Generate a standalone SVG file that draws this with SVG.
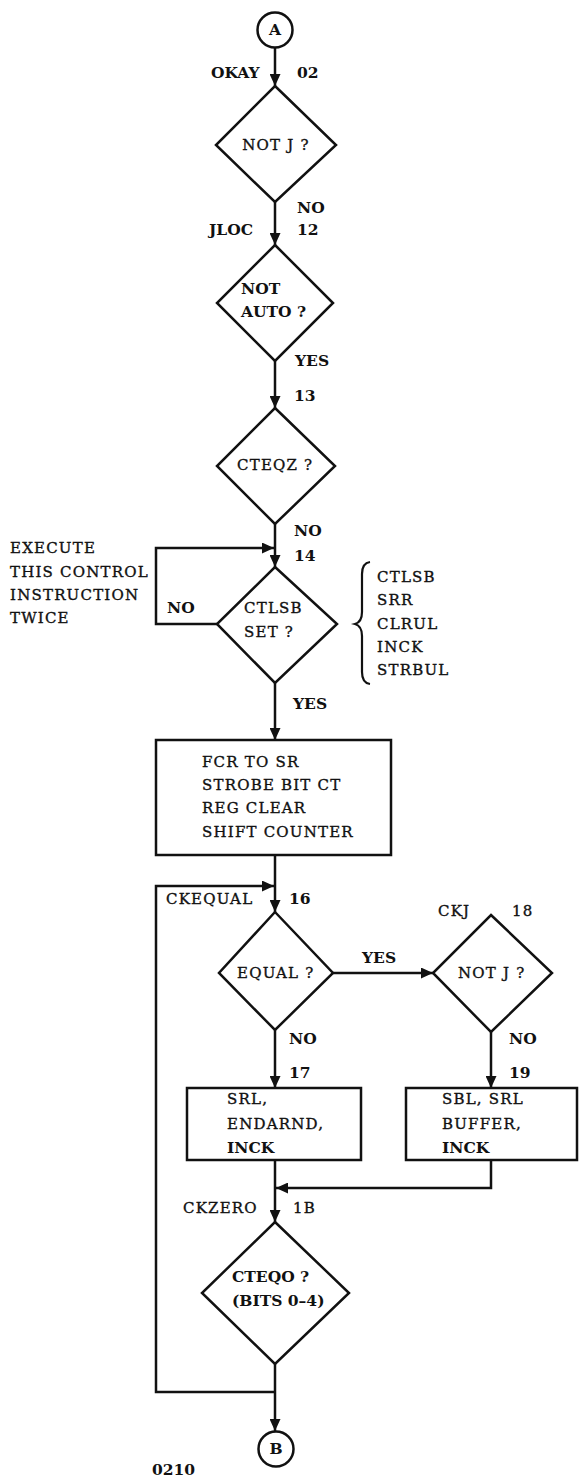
<svg xmlns="http://www.w3.org/2000/svg" width="579" height="1478" viewBox="0 0 579 1478">
<style>
.s{fill:none;stroke:#111;stroke-width:2.5;stroke-linejoin:miter}
.n{fill:#fff;stroke:#111;stroke-width:2.5}
.t{font-family:"DejaVu Serif","Liberation Serif",serif;font-size:15px;letter-spacing:1.2px;fill:#111;stroke:#111;stroke-width:0.35}
.b{font-family:"DejaVu Serif","Liberation Serif",serif;font-size:15.5px;font-weight:bold;fill:#111}
.c{text-anchor:middle}
</style>
<defs>
<marker id="ah" markerUnits="userSpaceOnUse" markerWidth="13" markerHeight="11" refX="12" refY="5.5" orient="auto">
<path d="M0,0 L12,5.5 L0,11 z" fill="#111"/>
</marker>
</defs>
<rect width="579" height="1478" fill="#fff"/>
<g id="connectors" class="s" marker-end="url(#ah)">
<path d="M275,48 V86"/>
<path d="M275,202 V245"/>
<path d="M275,361 V408"/>
<path d="M275,524 V567"/>
<path d="M217,624 H156 V548 H274"/>
<path d="M275,683 V740"/>
<path d="M275,855 V912"/>
<path d="M333,973 H433"/>
<path d="M275,1030 V1088"/>
<path d="M491,1032 V1088"/>
<path d="M275,1160 V1222"/>
<path d="M491,1160 V1188 H276"/>
<path d="M275,1364 V1431"/>
<path d="M275,1392 H156 V886 H274"/>
</g>
<g id="nodeA">
<circle class="n" cx="275" cy="30" r="17.5"/>
<text class="b c" x="275" y="35" font-size="14">A</text>
</g>
<g id="notj1">
<path class="n" d="M275,86 L336,145 L275,202 L216,145 z"/>
<text class="t c" x="276" y="150">NOT J ?</text>
</g>
<g id="notauto">
<path class="n" d="M275,245 L333,303 L275,361 L217,303 z"/>
<text class="b" x="241" y="294">NOT</text>
<text class="b" x="241" y="317">AUTO ?</text>
</g>
<g id="cteqz">
<path class="n" d="M275,408 L335,466 L275,524 L217,466 z"/>
<text class="t" x="237" y="470">CTEQZ ?</text>
</g>
<g id="ctlsb">
<path class="n" d="M275,567 L337,624 L275,683 L217,624 z"/>
<text class="t" x="244" y="613">CTLSB</text>
<text class="t" x="244" y="637">SET ?</text>
</g>
<g id="fcr">
<rect class="n" x="156" y="740" width="235" height="115"/>
<text class="t" x="202" y="767">FCR TO SR</text>
<text class="t" x="202" y="790">STROBE BIT CT</text>
<text class="t" x="202" y="813">REG CLEAR</text>
<text class="t" x="202" y="837">SHIFT COUNTER</text>
</g>
<g id="equal">
<path class="n" d="M275,912 L333,973 L275,1030 L219,973 z"/>
<text class="t" x="237" y="978">EQUAL ?</text>
</g>
<g id="notj2">
<path class="n" d="M491,915 L552,973 L491,1032 L433,973 z"/>
<text class="t" x="458" y="978">NOT J ?</text>
</g>
<g id="box17">
<rect class="n" x="187" y="1088" width="174" height="72"/>
<text class="t" x="227" y="1104">SRL,</text>
<text class="t" x="227" y="1129">ENDARND,</text>
<text class="b" x="227" y="1153">INCK</text>
</g>
<g id="box19">
<rect class="n" x="406" y="1088" width="171" height="72"/>
<text class="t" x="442" y="1104">SBL, SRL</text>
<text class="t" x="442" y="1129">BUFFER,</text>
<text class="b" x="442" y="1153">INCK</text>
</g>
<g id="cteqo">
<path class="n" d="M275,1222 L349,1293 L275,1364 L202,1293 z"/>
<text class="b" x="232" y="1282">CTEQO ?</text>
<text class="b" x="232" y="1306">(BITS 0–4)</text>
</g>
<g id="nodeB">
<circle class="n" cx="276" cy="1449" r="17.5"/>
<text class="b c" x="276" y="1454" font-size="14">B</text>
</g>
<g id="brace">
<path d="M370,562 Q362,563 362,574 V612 Q362,622 355,624 Q362,626 362,636 V672 Q362,683 370,684" fill="none" stroke="#111" stroke-width="2.2"/>
</g>
<g id="labels">
<text class="b" x="211" y="78">OKAY</text>
<text class="b" x="297" y="78">02</text>
<text class="b" x="297" y="213">NO</text>
<text class="b" x="209" y="235">JLOC</text>
<text class="b" x="297" y="235">12</text>
<text class="b" x="295" y="366">YES</text>
<text class="b" x="294" y="401">13</text>
<text class="b" x="294" y="536">NO</text>
<text class="b" x="294" y="561">14</text>
<text class="t" x="10" y="553">EXECUTE</text>
<text class="t" x="10" y="577">THIS CONTROL</text>
<text class="t" x="10" y="600">INSTRUCTION</text>
<text class="t" x="10" y="623">TWICE</text>
<text class="b" x="167" y="613">NO</text>
<text class="t" x="377" y="582">CTLSB</text>
<text class="t" x="377" y="605">SRR</text>
<text class="t" x="377" y="629">CLRUL</text>
<text class="t" x="377" y="652">INCK</text>
<text class="t" x="377" y="675">STRBUL</text>
<text class="b" x="293" y="709">YES</text>
<text class="t" x="166" y="904">CKEQUAL</text>
<text class="b" x="289" y="904">16</text>
<text class="b" x="362" y="963">YES</text>
<text class="t" x="438" y="916">CKJ</text>
<text class="t" x="512" y="916">18</text>
<text class="b" x="289" y="1044">NO</text>
<text class="b" x="509" y="1044">NO</text>
<text class="b" x="289" y="1078">17</text>
<text class="b" x="509" y="1078">19</text>
<text class="t" x="183" y="1213">CKZERO</text>
<text class="t" x="293" y="1213">1B</text>
<text class="b" x="152" y="1475">0210</text>
</g>
</svg>
